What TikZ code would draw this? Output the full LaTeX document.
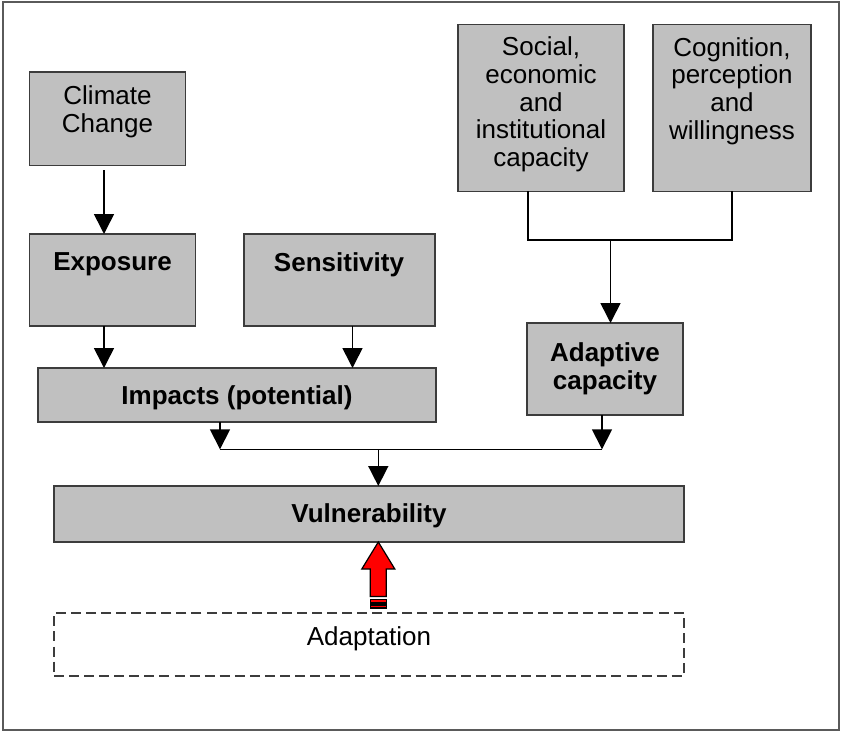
\documentclass[tikz,border=0pt]{standalone}
\usepackage{fontspec}
\setmainfont{Liberation Sans}
\usetikzlibrary{arrows.meta,calc}

\definecolor{boxgray}{RGB}{192,192,192}
\definecolor{edgegray}{RGB}{60,60,60}
\definecolor{framegray}{RGB}{90,90,90}

\tikzset{
  box/.style={rectangle, draw=edgegray, fill=boxgray, line width=1.1pt,
    inner sep=0pt, outer sep=0pt},
  dashbox/.style={rectangle, draw=edgegray, line width=1.1pt, dash pattern=on 7.5pt off 3.8pt,
    inner sep=0pt, outer sep=0pt},
  txt/.style={align=center, inner sep=0pt, font=\fontsize{19.5}{20.8}\selectfont},
  btxt/.style={txt, font=\fontsize{19.5}{20.8}\selectfont\bfseries},
  line/.style={line width=1.2pt, black},
  conn/.style={line, -{Triangle[width=15pt,length=15pt]}},
  redarrow/.style={draw=black, fill=red, line width=0.9pt, line join=miter}
}

\begin{document}
\begin{tikzpicture}[x=0.75pt,y=-0.75pt]
  \useasboundingbox (0,0) rectangle (841,731);
  \draw[framegray, line width=1.5pt] (3,2) rectangle (839,730);

  % boxes
  \node (cc) [box, minimum width=117pt, minimum height=70pt] at (107.5,118.8) {};
  \node (ex) [box, minimum width=124.5pt, minimum height=69pt] at (112.5,280) {};
  \node (sens) [box, minimum width=143.3pt, minimum height=69pt] at (339.5,280) {};
  \node (imp) [box, minimum width=298.5pt, minimum height=40.5pt] at (237,395) {};
  \node (soc) [box, minimum width=124.5pt, minimum height=125pt] at (541,108) {};
  \node (cog) [box, minimum width=118.5pt, minimum height=125pt] at (732,108) {};
  \node (ada) [box, minimum width=117pt, minimum height=69pt] at (605,369) {};
  \node (vul) [box, minimum width=472.5pt, minimum height=42pt] at (369,514) {};
  \node (adp) [dashbox, minimum width=472.5pt, minimum height=47pt] at (369,644.5) {};

  % texts
  \node (cctxt) [txt] at (107.5,112) {Climate\\Change};
  \node (extxt) [btxt] at (112.5,264.5) {Exposure};
  \node (senstxt) [btxt] at (339,264.5) {Sensitivity};
  \node (imptxt) [btxt] at (237,397.5) {Impacts (potential)};
  \node (soctxt) [txt] at (541,104.5) {Social,\\economic\\and\\institutional\\capacity};
  \node (cogtxt) [txt] at (732,91) {Cognition,\\perception\\and\\willingness};
  \node (adatxt) [btxt] at (605,369) {Adaptive\\capacity};
  \node (vultxt) [btxt] at (369,515.5) {Vulnerability};
  \node (adptxt) [txt] at (369,638.5) {Adaptation};

  % connections
  \draw[conn] ($(cc.south)+(-3.5,5)$) coordinate (c1) -- (c1 |- ex.north);
  \draw[conn] (c1 |- ex.south) -- (c1 |- imp.north);
  \draw[conn] ($(sens.south)+(13,0)$) coordinate (c2) -- (c2 |- imp.north);
  \coordinate (capjoin) at (610.5,240);
  \draw[line] ($(soc.south)+(-13,0)$) |- (capjoin) -| (cog.south);
  \draw[conn] (capjoin) -- (capjoin |- ada.north);
  \coordinate (vuljoin) at (378.3,449.3);
  \draw[conn] ($(imp.south)+(-17,0)$) coordinate (c4) -- (c4 |- vuljoin);
  \draw[conn] ($(ada.south)+(-3,0)$) coordinate (c5) -- (c5 |- vuljoin);
  \draw[line] (c4 |- vuljoin) -- (c5 |- vuljoin);
  \draw[conn] (vuljoin) -- (vuljoin |- vul.north);

  % adaptation arrow
  \draw[redarrow] ($(vul.south)+(9.3,0)$) coordinate (tip) -- ++(16.5,27) -- ++(-8.5,0)
    -- ++(0,27.5) -- ++(-16,0) -- ++(0,-27.5) -- ++(-8.5,0) -- cycle;
  \draw[redarrow] ($(tip)+(-8,57.5)$) rectangle ++(16,3.5);
  \draw[redarrow] ($(tip)+(-8,63)$) rectangle ++(16,3);
\end{tikzpicture}
\end{document}
